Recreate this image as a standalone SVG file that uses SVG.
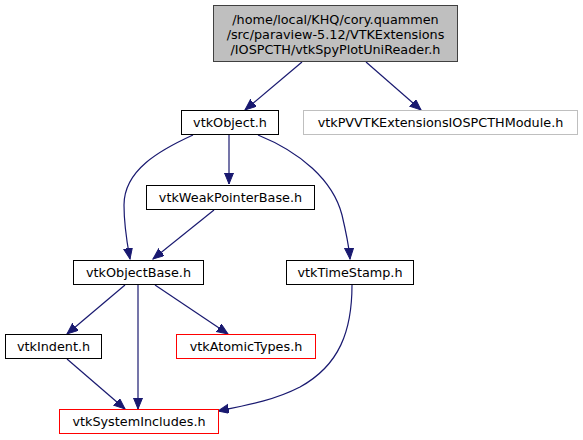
<svg xmlns="http://www.w3.org/2000/svg" width="583" height="440" viewBox="0 0 583 440">
<defs>
<style>
text{font-family:"DejaVu Sans",sans-serif;font-size:12.8px;fill:#000;text-anchor:middle}
.n rect{fill:#fff;stroke:#000;stroke-width:1}
.root rect{fill:#bfbfbf;stroke:#404040}
.grey rect{stroke:#bfbfbf}
.n.red rect{stroke:#ff0000}
.e path{fill:none;stroke:#191970;stroke-width:1.2;marker-end:url(#a)}
</style>
<marker id="a" markerUnits="userSpaceOnUse" markerWidth="12" markerHeight="10" refX="11" refY="4.5" orient="auto">
<path d="M0,0 L11,4.5 L0,9 z" fill="#191970" stroke="#191970" stroke-width="1"/>
</marker>
</defs>
<rect width="583" height="440" fill="#fff"/>
<g class="e" id="edges">
<path d="M302,62 L245,110"/>
<path d="M366,62 L421,110"/>
<path d="M193,135 C160,150 124,170 124,205 C124,225 127,243 130,259"/>
<path d="M229,135 L229,184"/>
<path d="M258,135 C300,152 333,180 342,215 C346,232 349,246 350,259"/>
<path d="M214,210 L153,259"/>
<path d="M125,285 L67,334"/>
<path d="M138,285 L138,409"/>
<path d="M155,285 L228,334"/>
<path d="M67,359 L125,409"/>
<path d="M352,285 C352,330 340,365 300,387 C275,400 248,405 218,411"/>
</g>
<g class="n root" id="root"><rect x="213.5" y="5.5" width="244" height="56"/>
<text x="335.5" y="24">/home/local/KHQ/cory.quammen</text>
<text x="335.5" y="39">/src/paraview-5.12/VTKExtensions</text>
<text x="335.5" y="54">/IOSPCTH/vtkSpyPlotUniReader.h</text></g>
<g class="n" id="vtkObject"><rect x="181.5" y="110.5" width="97" height="24"/><text x="230" y="127">vtkObject.h</text></g>
<g class="n grey" id="module"><rect x="303.5" y="110.5" width="274" height="24"/><text x="440.5" y="127">vtkPVVTKExtensionsIOSPCTHModule.h</text></g>
<g class="n" id="weak"><rect x="146.5" y="185.5" width="168" height="24"/><text x="230.5" y="202">vtkWeakPointerBase.h</text></g>
<g class="n" id="objectbase"><rect x="73.5" y="260.5" width="130" height="24"/><text x="138.5" y="277">vtkObjectBase.h</text></g>
<g class="n" id="timestamp"><rect x="286.5" y="260.5" width="127" height="24"/><text x="350" y="277">vtkTimeStamp.h</text></g>
<g class="n" id="indent"><rect x="5.5" y="334.5" width="96" height="24"/><text x="53.5" y="351">vtkIndent.h</text></g>
<g class="n red" id="atomic"><rect x="176.5" y="334.5" width="139" height="24" stroke="#ff0000"/><text x="246" y="351">vtkAtomicTypes.h</text></g>
<g class="n red" id="sysinc"><rect x="59.5" y="409.5" width="159" height="24" stroke="#ff0000" style="stroke:#ff0000"/><text x="139" y="426">vtkSystemIncludes.h</text></g>
</svg>
